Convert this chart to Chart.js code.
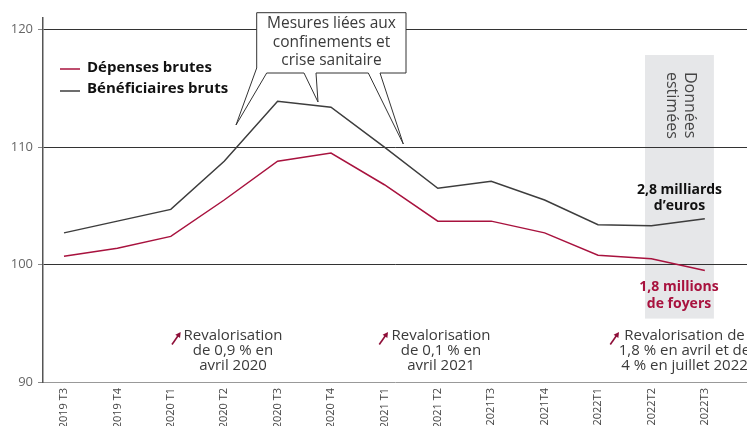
<!DOCTYPE html>
<html><head><meta charset="utf-8">
<script src="https://cdn.jsdelivr.net/npm/chart.js@4.4.1/dist/chart.umd.min.js"></script>
<style>html,body{margin:0;padding:0;background:#fff;overflow:hidden}#wrap{width:747px;height:426px;position:relative}</style>
</head><body><div id="wrap"><canvas id="c"></canvas></div>
<script>
const categories = ['2019 T3','2019 T4','2020 T1','2020 T2','2020 T3','2020 T4','2021 T1','2021 T2','2021T3','2021T4','2022T1','2022T2','2022T3'];
const depensesBrutes = [100.7,101.4,102.4,105.5,108.8,109.5,106.8,103.7,103.7,102.7,100.8,100.5,99.5];
const beneficiairesBruts = [102.7,103.7,104.7,108.8,113.9,113.4,110.0,106.5,107.1,105.5,103.4,103.3,103.9];
const yTicks = [90,100,110,120];
const seriesLabels = ['Dépenses brutes','Bénéficiaires bruts'];

const RED = '#a8123e', DARK = '#3d3d3d';
const FONT = "'Open Sans', 'DejaVu Sans', sans-serif";

const toXY = arr => arr.map((v,i)=>({x:i,y:v}));

const deco = {
  id:'deco',
  beforeDraw(chart){
    const {ctx, scales:{x,y}} = chart;
    const x0 = x.getPixelForValue(10.88), x1 = x.getPixelForValue(12.17);
    const y0 = y.getPixelForValue(117.85), y1 = y.getPixelForValue(95.4);
    ctx.save();
    ctx.fillStyle = '#e6e7e9';
    ctx.fillRect(x0, y0, x1-x0, y1-y0);
    ctx.restore();
  },
  afterDraw(chart){
    const {ctx} = chart;
    ctx.save();
    // Legend
    chart.data.datasets.forEach((d,i)=>{
      const yy = 69 + i*21;
      ctx.strokeStyle = d.borderColor; ctx.lineWidth = 1.5;
      ctx.beginPath(); ctx.moveTo(60,yy+(i?1:0)); ctx.lineTo(80,yy+(i?1:0)); ctx.stroke();
      ctx.fillStyle = '#111'; ctx.font = "bold 15px " + FONT;
      ctx.textAlign='left'; ctx.textBaseline='middle';
      ctx.fillText(d.label, 87, yy-1);
    });

    // Callout
    ctx.beginPath();
    const pts = [[256.7,12.7],[406,12.7],[406,73],[380,73],[403.3,144],[368.3,73],[316,73],[318,102],[304,73],[266.7,73],[236,125],[256.7,68]];
    ctx.moveTo(pts[0][0],pts[0][1]);
    pts.slice(1).forEach(p=>ctx.lineTo(p[0],p[1]));
    ctx.closePath();
    ctx.fillStyle='#fff'; ctx.fill();
    ctx.strokeStyle='#333'; ctx.lineWidth=1; ctx.stroke();
    ctx.fillStyle='#3a3a3a'; ctx.font = "15.5px " + FONT; ctx.textAlign='center'; ctx.textBaseline='middle';
    ['Mesures liées aux','confinements et','crise sanitaire'].forEach((t,i)=>ctx.fillText(t,331.5,24+i*18.2));

    // Band texts
    [['Données',690],['estimées',671.5]].forEach(([t,xx])=>{
      ctx.save();
      ctx.fillStyle='#444'; ctx.font = "16px " + FONT; ctx.textAlign='left'; ctx.textBaseline='middle';
      ctx.translate(xx,72); ctx.rotate(Math.PI/2); ctx.fillText(t,0,0);
      ctx.restore();
    });

    ctx.textAlign='center'; ctx.textBaseline='middle';
    ctx.fillStyle='#111'; ctx.font = "bold 14px " + FONT;
    ctx.fillText('2,8 milliards',679.5,190); ctx.fillText('d\u2019euros',679.5,206);
    ctx.fillStyle=RED;
    ctx.fillText('1,8 millions',679,287.5); ctx.fillText('de foyers',679,304.5);

    // Bottom annotations
    const anns = [
      {cx:233, lines:['Revalorisation','de 0,9 % en','avril 2020'], ax:180.7},
      {cx:441, lines:['Revalorisation','de 0,1 % en','avril 2021'], ax:388},
      {cx:684.5, lines:['Revalorisation de','1,8 % en avril et de','4 % en juillet 2022'], ax:619}
    ];
    anns.forEach(a=>{
      ctx.fillStyle='#3a3a3a'; ctx.font="15px " + FONT; ctx.textAlign='center';
      a.lines.forEach((t,i)=>ctx.fillText(t,a.cx,335.5+i*15));
      const hx=a.ax, hy=332, tx=a.ax-8.7, ty=344.5;
      const ang=Math.atan2(hy-ty,hx-tx);
      ctx.strokeStyle='#8e0e38'; ctx.fillStyle='#8e0e38'; ctx.lineWidth=1.6;
      ctx.beginPath(); ctx.moveTo(tx,ty); ctx.lineTo(hx-4*Math.cos(ang),hy-4*Math.sin(ang)); ctx.stroke();
      ctx.beginPath(); ctx.moveTo(hx,hy);
      ctx.lineTo(hx-6*Math.cos(ang-0.5),hy-6*Math.sin(ang-0.5));
      ctx.lineTo(hx-6*Math.cos(ang+0.5),hy-6*Math.sin(ang+0.5));
      ctx.closePath(); ctx.fill();
    });
    ctx.restore();
  }
};

new Chart(document.getElementById('c'), {
  type:'line',
  data:{datasets:[
    {label:seriesLabels[0], data:toXY(depensesBrutes), borderColor:RED, borderWidth:1.5, pointRadius:0, tension:0, fill:false},
    {label:seriesLabels[1], data:toXY(beneficiairesBruts), borderColor:DARK, borderWidth:1.5, pointRadius:0, tension:0, fill:false}
  ]},
  options:{
    responsive:true, maintainAspectRatio:false, animation:false,
    layout:{padding:{top:18,left:0,right:0,bottom:0}},
    plugins:{legend:{display:false}, tooltip:{enabled:false}},
    scales:{
      x:{type:'linear', min:-0.393, max:12.79,
        afterBuildTicks:s=>{s.ticks = categories.map((c,i)=>({value:i}));},
        afterFit:s=>{s.height=44;},
        grid:{drawOnChartArea:false, drawTicks:false},
        border:{color:'#999', width:1},
        ticks:{autoSkip:false, maxRotation:90, minRotation:90, padding:6, color:'#444',
          font:{family:FONT, size:11}, callback:v=>categories[v] ?? ''}
      },
      y:{min:90, max:121,
        afterBuildTicks:s=>{s.ticks = yTicks.map(v=>({value:v}));},
        afterFit:s=>{s.width=43;},
        grid:{color:c=>c.tick && c.tick.value===90 ? 'rgba(0,0,0,0)' : '#333', tickColor:'#888', tickLength:5, lineWidth:1},
        border:{color:'#555', width:1.5},
        ticks:{padding:5, color:'#666', font:{family:FONT, size:13}}
      }
    }
  },
  plugins:[deco]
});
</script></body></html>
